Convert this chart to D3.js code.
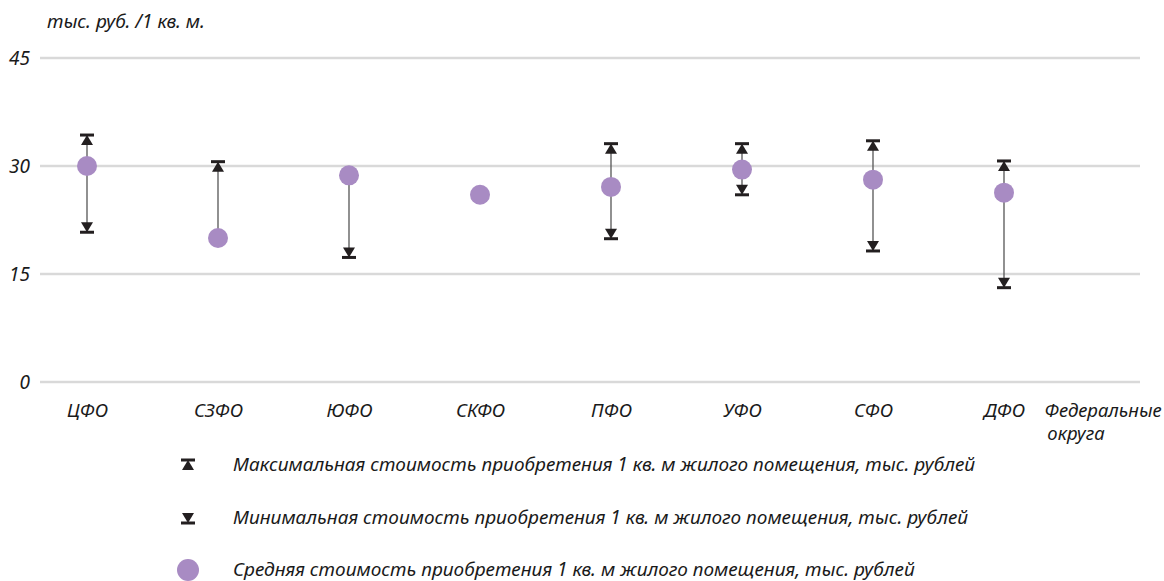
<!DOCTYPE html>
<html>
<head>
<meta charset="utf-8">
<script src="https://cdn.jsdelivr.net/npm/d3@7"></script>
<style>
    body { margin: 0; background: white; }
    svg text { font-family: 'Noto Sans', sans-serif; font-style: italic; fill: #1a1a1a; }
</style>
</head>
<body>
<div id="chart"></div>
<script>
var districts = ['ЦФО', 'СЗФО', 'ЮФО', 'СКФО', 'ПФО', 'УФО', 'СФО', 'ДФО'];
var maxCost = [34.3, 30.6, null, null, 33.1, 33.1, 33.5, 30.7];
var minCost = [20.8, null, 17.3, null, 19.9, 26.0, 18.2, 13.1];
var avgCost = [30.0, 20.0, 28.7, 26.0, 27.1, 29.5, 28.1, 26.3];
var yTicks = [0, 15, 30, 45];
var legendLabels = [
    'Максимальная стоимость приобретения 1 кв. м жилого помещения, тыс. рублей',
    'Минимальная стоимость приобретения 1 кв. м жилого помещения, тыс. рублей',
    'Средняя стоимость приобретения 1 кв. м жилого помещения, тыс. рублей'
];

var width = 1164;
var height = 581;
var purple = '#a88bc3';

var svg = d3.select('#chart').append('svg')
    .attr('width', width)
    .attr('height', height);

var xScale = d3.scalePoint()
    .domain(districts)
    .range([87, 1004]);

var yScale = d3.scaleLinear()
    .domain([0, 45])
    .range([382, 58]);

// gridlines
svg.append('g')
    .selectAll('line')
    .data(yTicks)
    .enter()
    .append('line')
    .attr('x1', 40)
    .attr('x2', 1140)
    .attr('y1', d => yScale(d))
    .attr('y2', d => yScale(d))
    .attr('stroke', '#d9d9d9')
    .attr('stroke-width', 2.5);

var yAxis = d3.axisLeft(yScale).tickValues(yTicks).tickSize(0).tickPadding(0);
var yG = svg.append('g')
    .attr('transform', 'translate(30,0)')
    .call(yAxis);
yG.select('.domain').remove();
yG.selectAll('text')
    .attr('font-size', 19)
    .attr('dy', '0.35em')
    .style('font-family', null);

svg.append('text')
    .attr('x', 47)
    .attr('y', 28)
    .attr('font-size', 19)
    .text('тыс. руб. /1 кв. м.');

var xAxis = d3.axisBottom(xScale).tickSize(0).tickPadding(0);
var xG = svg.append('g')
    .attr('transform', 'translate(0,417)')
    .call(xAxis);
xG.select('.domain').remove();
xG.selectAll('text')
    .attr('font-size', 19)
    .attr('dy', 0)
    .style('font-family', null);

svg.append('text')
    .attr('x', 1103)
    .attr('y', 417)
    .attr('font-size', 18.5)
    .attr('text-anchor', 'middle')
    .text('Федеральные');
svg.append('text')
    .attr('x', 1076)
    .attr('y', 440)
    .attr('font-size', 18.5)
    .attr('text-anchor', 'middle')
    .text('округа');

var rows = districts.map((d, i) => ({ name: d, max: maxCost[i], min: minCost[i], avg: avgCost[i] }));

function capUp(g, x, y) {
    // bar on top, triangle pointing up underneath
    g.append('rect').attr('x', x - 7).attr('y', y - 1.5).attr('width', 14).attr('height', 3).attr('fill', '#231f20');
    g.append('path').attr('d', `M${x},${y} L${x - 6},${y + 10} L${x + 6},${y + 10} Z`).attr('fill', '#231f20');
}

function capDown(g, x, y) {
    g.append('rect').attr('x', x - 7).attr('y', y - 1.5).attr('width', 14).attr('height', 3).attr('fill', '#231f20');
    g.append('path').attr('d', `M${x},${y} L${x - 6},${y - 10} L${x + 6},${y - 10} Z`).attr('fill', '#231f20');
}

var marks = svg.append('g');

rows.forEach(r => {
    var x = xScale(r.name);
    var top = r.max != null ? r.max : r.avg;
    var bottom = r.min != null ? r.min : r.avg;
    if (top !== bottom) {
        marks.append('line')
            .attr('x1', x).attr('x2', x)
            .attr('y1', yScale(top)).attr('y2', yScale(bottom))
            .attr('stroke', '#555')
            .attr('stroke-width', 1.3);
    }
    if (r.max != null) capUp(marks, x, yScale(r.max));
    if (r.min != null) capDown(marks, x, yScale(r.min));
    marks.append('circle')
        .attr('cx', x)
        .attr('cy', yScale(r.avg))
        .attr('r', 10)
        .attr('fill', purple);
});

// legend
var legend = svg.append('g');
var legendY = [465, 518, 570];
capUp(legend, 188, legendY[0] - 5);
capDown(legend, 188, legendY[1] + 5);
legend.append('circle').attr('cx', 188).attr('cy', legendY[2]).attr('r', 11).attr('fill', purple);

legend.selectAll('text.leg')
    .data(legendLabels)
    .enter()
    .append('text')
    .attr('class', 'leg')
    .attr('x', 233)
    .attr('y', (d, i) => legendY[i] + 6)
    .attr('font-size', 19)
    .text(d => d);
</script>
</body>
</html>
